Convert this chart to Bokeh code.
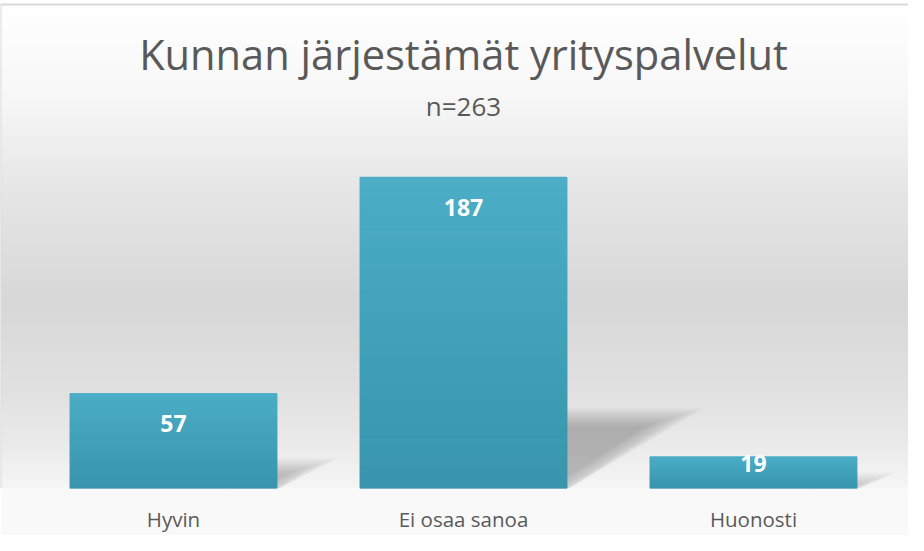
import numpy as np
from bokeh.plotting import figure
from bokeh.models import Range1d, Label, FixedTicker
from bokeh.embed import file_html
from bokeh.resources import INLINE
from bokeh.core.properties import value

# ---- data ----
categories = ["Hyvin", "Ei osaa sanoa", "Huonosti"]
counts = [57, 187, 19]
title_text = "Kunnan järjestämät yrityspalvelut"
subtitle_text = "n=263"

# ---- layout constants ----
W, H = 908, 535
FRAME_H = 489          # frame spans figure y 0..489 (baseline at bottom)
SX = 290.0             # px per category
SY = 1.668             # px per count unit
X0 = -173.0 / SX
X1 = X0 + W / SX
Y1 = FRAME_H / SY
TOP_BORDER = 485.0 / SY  # chart border line (page y 12)
BW = 0.714
FONT = "Open Sans"

p = figure(width=W, height=H, x_range=Range1d(X0, X1), y_range=Range1d(0, Y1),
           output_backend="svg", toolbar_location=None,
           min_border_left=0, min_border_right=0, min_border_top=0, min_border_bottom=H - FRAME_H,
           y_axis_location=None, background_fill_color="white",
           border_fill_color="#f9f9f9", outline_line_color=None)
p.grid.visible = False

# ---- background gradient ----
n_rows = 485
stops_y = [12, 100, 200, 310, 400, 450, 497]
stops_v = [255, 248, 230, 216, 225, 234, 246]
page_y = 497 - (np.arange(n_rows) + 0.5)
g = np.interp(page_y, stops_y, stops_v).astype(np.uint8)
img = np.empty((n_rows, 1), dtype=np.uint32)
view = img.view(dtype=np.uint8).reshape((n_rows, 1, 4))
view[:, 0, 0] = g
view[:, 0, 1] = g
view[:, 0, 2] = g
view[:, 0, 3] = 255
p.image_rgba(image=[img], x=X0, y=0, dw=X1 - X0, dh=TOP_BORDER)

# chart border (top and left)
p.segment(x0=[X0, X0], y0=[0, TOP_BORDER], x1=[X0, X1], y1=[TOP_BORDER, TOP_BORDER],
          line_color="#d9d9d9", line_width=2)

# ---- perspective shadows (soft, layered) ----
def offset_poly(pts, e):
    pts = np.asarray(pts, dtype=float)
    n = len(pts)
    out = []
    for i in range(n):
        a, b, c = pts[i - 1], pts[i], pts[(i + 1) % n]
        d1 = b - a
        d2 = c - b
        n1 = np.array([d1[1], -d1[0]]) / np.hypot(*d1)
        n2 = np.array([d2[1], -d2[0]]) / np.hypot(*d2)
        out.append(b + e * (n1 + n2) / (1 + n1 @ n2))
    return np.array(out)

xs_sh, ys_sh = [], []
for i, v in enumerate(counts):
    xr = (i + BW / 2 - X0) * SX
    h = 0.23 * v * SY
    dx = 1.51 * h
    base = [(xr - 40, 0), (xr, 0), (xr + dx, h), (xr - 40, h)]
    for e in np.linspace(-9, 9, 13):
        if h + 2 * min(e, 0) <= 1:
            continue
        q = offset_poly(base, e)
        q[:, 1] = np.clip(q[:, 1], 0, None)
        xs_sh.append(list(X0 + q[:, 0] / SX))
        ys_sh.append(list(q[:, 1] / SY))
p.patches(xs=xs_sh, ys=ys_sh, fill_color="black", fill_alpha=0.018, line_color=None)

# ---- bars ----
xpos = list(range(len(categories)))
p.vbar(x=xpos, width=BW, bottom=0, top=counts, fill_color="#43a3bd", line_color=None)

top_c = np.array([75, 173, 198])
bot_c = np.array([56, 149, 173])
N = 30
bx, bb, bt, bc = [], [], [], []
for i, v in enumerate(counts):
    for k in range(N):
        t = (k + 0.5) / N
        c = bot_c + (top_c - bot_c) * t
        bx.append(i)
        bb.append(v * k / N)
        bt.append(v * (k + 1) / N)
        bc.append("#%02x%02x%02x" % tuple(int(round(z)) for z in c))
p.vbar(x=bx, width=BW, bottom=bb, top=bt, fill_color=bc, line_color=bc, line_width=0.8)

# ---- data labels ----
label_y = [max(v - 38 / SY, 0.54 * v) + 8 / SY for v in counts]
p.text(x=xpos, y=label_y, text=[str(v) for v in counts], text_color="white",
       text_font=value(FONT), text_font_style="bold", text_font_size="23px",
       text_align="center", text_baseline="alphabetic")

# ---- titles ----
cx = X0 + (471 - 8) / SX
p.add_layout(Label(x=cx, y=(497 - 78 + 16) / SY, text=title_text, text_font=FONT,
                   text_font_size="41.6px", text_color="#595959",
                   text_align="center", text_baseline="alphabetic"))
p.add_layout(Label(x=cx, y=(497 - 122 + 8) / SY, text=subtitle_text, text_font=FONT,
                   text_font_size="26px", text_color="#595959",
                   text_align="center", text_baseline="alphabetic"))

# ---- axis ----
ax = p.xaxis[0]
ax.ticker = FixedTicker(ticks=xpos)
ax.major_label_overrides = {i: c for i, c in enumerate(categories)}
ax.axis_line_color = None
ax.major_tick_line_color = None
ax.minor_tick_line_color = None
ax.major_tick_out = 0
ax.major_tick_in = 0
ax.minor_tick_out = 0
ax.minor_tick_in = 0
ax.major_label_text_font = FONT
ax.major_label_text_font_size = "20.5px"
ax.major_label_text_color = "#595959"
ax.major_label_standoff = 16

open("out.html", "w").write(file_html(p, INLINE))
